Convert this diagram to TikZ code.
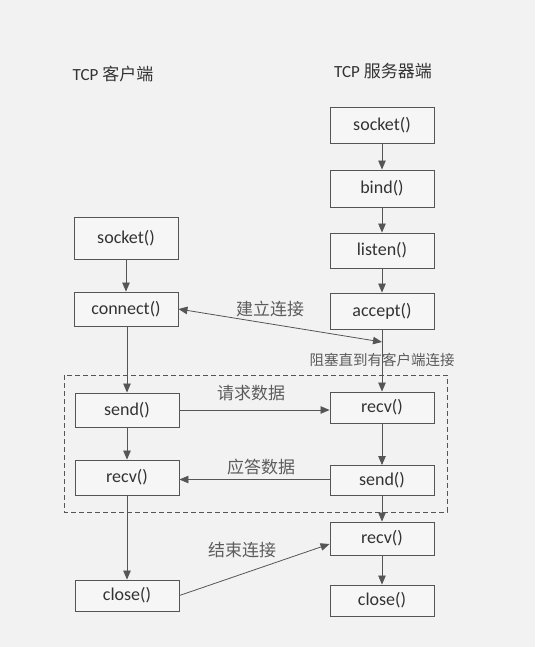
\documentclass[tikz,border=0pt]{standalone}
\usepackage{fontspec}
\setmainfont{Carlito}
\newfontfamily\cjk{Noto Sans CJK SC}[Scale=1.0]
\usetikzlibrary{arrows.meta}
\definecolor{bgc}{HTML}{F3F2F3}
\definecolor{boxfill}{HTML}{F6F6F6}
\definecolor{linec}{HTML}{555555}
\definecolor{txtc}{HTML}{333333}
\begin{document}
\begin{tikzpicture}[x=1pt,y=-1pt,
  fn/.style={draw=linec,fill=boxfill,line width=0.9pt,minimum width=104pt,inner sep=0pt,
    font=\fontsize{18}{18}\selectfont,text=txtc},
  lbl/.style={font=\cjk\fontsize{17}{17}\selectfont,text=txtc!80,inner sep=0pt},
  con/.style={draw=linec,line width=0.8pt,-{Triangle[length=9pt,width=7.5pt]}},
  plain/.style={draw=linec,line width=0.8pt}]
\fill[bgc] (0,0) rectangle (535,647);
\useasboundingbox (0,0) rectangle (535,647);
% headings
\node[font=\fontsize{17}{17}\selectfont,text=txtc,inner sep=0pt] (hc) at (113,74) {TCP {\cjk 客户端}};
\node[font=\fontsize{17}{17}\selectfont,text=txtc,inner sep=0pt] (hs) at (383,71) {TCP {\cjk 服务器端}};
% server
\node[fn,minimum height=36pt] (ssock) at (382,125) {socket()};
\node[fn,minimum height=37pt] (bind) at (382,188.5) {bind()};
\node[fn,minimum height=35pt] (listen) at (382,250.5) {listen()};
\node[fn,minimum height=36pt] (accept) at (382,311) {accept()};
\node[fn,minimum height=31pt] (srecv) at (382,407.5) {recv()};
\node[fn,minimum height=30pt] (ssend) at (382,480.5) {send()};
\node[fn,minimum height=33pt] (srecvb) at (382,538.5) {recv()};
\node[fn,minimum height=31pt] (sclose) at (382,600.5) {close()};
% client
\node[fn,minimum height=42pt] (csock) at (126,238) {socket()};
\node[fn,minimum height=34pt] (connect) at (126,309) {connect()};
\node[fn,minimum height=34pt] (send) at (127,410) {send()};
\node[fn,minimum height=35pt] (crecv) at (127,477.5) {recv()};
\node[fn,minimum height=31pt] (cclose) at (127,595.5) {close()};
% dashed region
\draw[linec,line width=0.8pt,dash pattern=on 5pt off 3pt] (64,375) rectangle (447,512);
% connector point
\coordinate (blk) at (382,342);
% server chain
\draw[con] (ssock) -- (bind);
\draw[con] (bind) -- (listen);
\draw[con] (listen) -- (accept);
\draw[con] (accept) -- (srecv);
\draw[con] (srecv) -- (ssend);
\draw[con] (ssend) -- (srecvb);
\draw[con] (srecvb) -- (sclose);
% client chain
\draw[con] (csock) -- (connect);
\draw[con] (connect.south -| send.north) -- (send);
\draw[con] (send) -- (crecv);
\draw[con] (crecv) -- (cclose);
% cross
\draw[draw=linec,line width=0.8pt,{Triangle[length=9pt,width=7.5pt]}-{Triangle[length=9pt,width=7.5pt]}] (connect.east) -- (blk);
\draw[con] (send.east) -- (srecv.west |- send.east);
\draw[con] (ssend.west |- 0,479.5) -- (crecv.east |- 0,479.5);
\draw[con] (cclose.east) -- (srecvb.west |- 0,544);
% labels
\node[lbl] (l1) at (270,309) {建立连接};
\node[lbl,font=\cjk\fontsize{14.5}{14.5}\selectfont] (l2) at (382,360) {阻塞直到有客户端连接};
\node[lbl] (l3) at (251,393) {请求数据};
\node[lbl] (l4) at (261,467) {应答数据};
\node[lbl] (l5) at (242,550) {结束连接};
\end{tikzpicture}
\end{document}
